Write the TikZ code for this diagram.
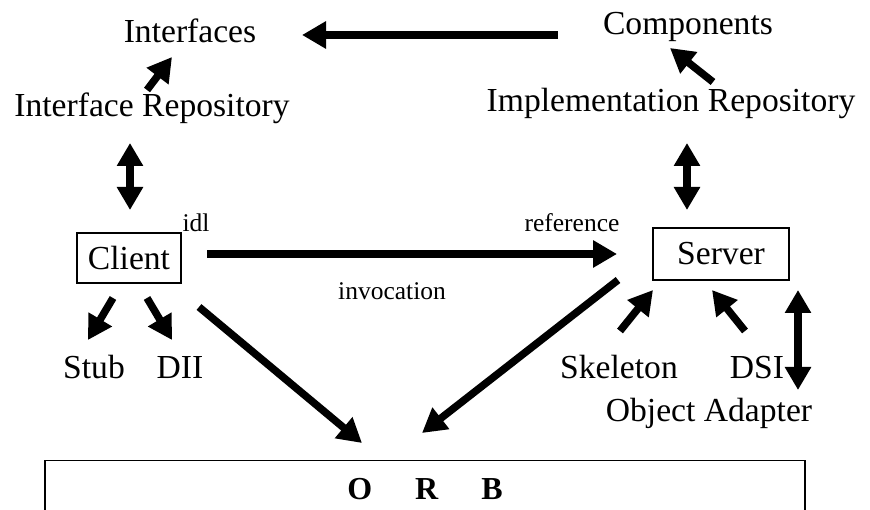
\documentclass[tikz,border=0pt]{standalone}
\usepackage{fontspec}
\setmainfont{Liberation Serif}
\usetikzlibrary{arrows.meta}
\begin{document}
\begin{tikzpicture}[x=1pt,y=-1pt,
  lbl/.style={font=\fontsize{33.6}{36}\selectfont, inner sep=0pt, anchor=base},
  small/.style={font=\fontsize{25.5}{28}\selectfont, inner sep=0pt, anchor=base},
  boxnode/.style={draw, line width=1.2pt, font=\fontsize{33.6}{36}\selectfont, inner sep=0pt},
  arr/.style={line width=7.5pt, -{Triangle[length=24pt,width=26pt]}},
  darr/.style={line width=7.5pt, {Triangle[length=23pt,width=25pt]}-{Triangle[length=23pt,width=25pt]}}]
\clip (0,0) rectangle (870,510);
\useasboundingbox (0,0) rectangle (870,510);
% text nodes
\node[lbl] (intf) at (190,43) {Interfaces};
\node[lbl] (comp) at (688,35) {Components};
\node[lbl] (irep) at (152,117) {Interface Repository};
\node[lbl] (impl) at (671,112) {Implementation Repository};
\node[boxnode, minimum width=104pt, minimum height=50pt] (client) at (129,258) {Client};
\node[boxnode, minimum width=136pt, minimum height=52pt] (server) at (721,254) {Server};
\node[small] (idl) at (196,232) {idl};
\node[small] (ref) at (572,232) {reference};
\node[small] (invoc) at (392,300) {invocation};
\node[lbl] (stub) at (94,378) {Stub};
\node[lbl] (dii) at (180,378) {DII};
\node[lbl] (skel) at (619,378) {Skeleton};
\node[lbl] (dsi) at (757,378) {DSI};
\node[lbl] (oa) at (709,421) {Object Adapter};
\node[draw, line width=1.2pt, anchor=north, minimum width=760pt, inner xsep=0pt, inner ysep=17pt,
      text height=22pt, text depth=14pt, font=\fontsize{32}{34}\selectfont\bfseries] (orb) at (425,460)
      {O\hspace{43pt}R\hspace{43pt}B};
% connectors
\draw[arr] ([shift={(-130,0)}]comp.base) -- ([shift={(112,-8)}]intf.base);
\draw[arr] ([shift={(-5,-27)}]irep.base) -- ([shift={(-18,14)}]intf.base);
\draw[arr] ([shift={(42,-30)}]impl.base) -- ([shift={(-18,13)}]comp.base);
\draw[darr] ([shift={(-22,26)}]irep.base) -- ([shift={(1,-48)}]client.center);
\draw[darr] ([shift={(16,31)}]impl.base) -- ([shift={(-34,-44)}]server.center);
\draw[arr] ([shift={(78,-4)}]client.center) -- ([shift={(-104,0)}]server.center);
\draw[arr] ([shift={(-16,40)}]client.center) -- ([shift={(-6,-38)}]stub.base);
\draw[arr] ([shift={(18,40)}]client.center) -- ([shift={(-8,-38)}]dii.base);
\draw[arr] ([shift={(70,49)}]client.center) -- ([shift={(-63,-17)}]orb.north);
\draw[arr] ([shift={(-103,26)}]server.center) -- ([shift={(-3,-27)}]orb.north);
\draw[arr] ([shift={(1,-47)}]skel.base) -- ([shift={(-68,36)}]server.center);
\draw[arr] ([shift={(-12,-47)}]dsi.base) -- ([shift={(-9,36)}]server.center);
\draw[darr] ([shift={(77,36)}]server.center) -- ([shift={(89,-31)}]oa.base);
\end{tikzpicture}
\end{document}
